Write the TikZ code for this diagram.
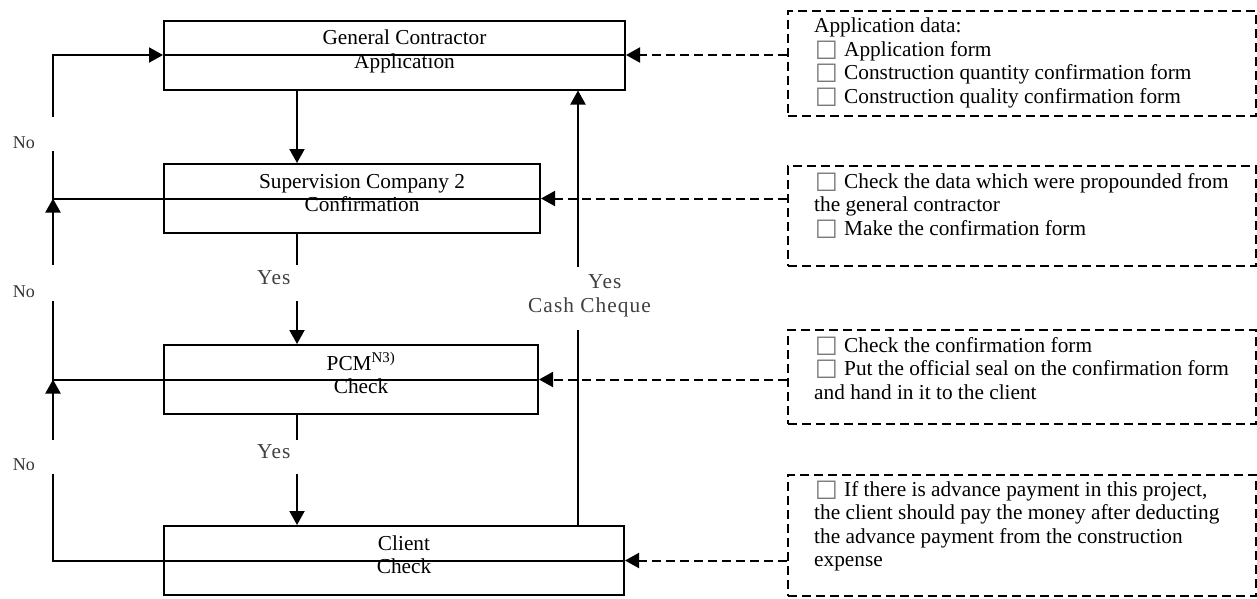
\documentclass[tikz,border=0pt]{standalone}
\usepackage{fontspec}
\setmainfont{Liberation Serif}
\newfontfamily\symfont{DejaVu Sans}
\newfontfamily\yesfont[LetterSpace=5]{Liberation Serif}
\usetikzlibrary{arrows.meta}
\newcommand{\cbx}{\makebox[30pt][l]{\hspace{1pt}{\color{black!55}\symfont\fontsize{24}{24}\selectfont □}}}
\tikzset{
 box/.style={draw, line width=2pt, minimum width=#1, minimum height=69pt, inner sep=0pt},
 btext/.style={align=center, inner sep=0pt, font=\fontsize{21.3}{23.5}\selectfont},
 note/.style={draw, line width=2pt, dash pattern=on 9pt off 5pt, inner sep=0pt},
 ntext/.style={align=left, inner sep=0pt, anchor=north west, font=\fontsize{21.3}{23.5}\selectfont},
 conn/.style={line width=2pt},
 dconn/.style={line width=2pt, dash pattern=on 9pt off 5pt},
 fwd/.style={-{Triangle[length=14pt,width=15pt]}},
 nolab/.style={anchor=base west, inner sep=0pt, text=black!80, font=\fontsize{18}{20}\selectfont},
 yeslab/.style={anchor=base west, inner sep=0pt, text=black!75, font=\yesfont\fontsize{21.3}{23.5}\selectfont},
}
\begin{document}
\begin{tikzpicture}[x=1pt,y=-1pt]
\useasboundingbox (0,0) rectangle (1257,598);
% process boxes
\node[box=461pt] (b1) at (394.5,55) {};
\node[box=376pt] (b2) at (352,198.5) {};
\node[box=374pt] (b3) at (351,379.5) {};
\node[box=460pt] (b4) at (394,560.5) {};
\node[btext] (t1) at ([shift={(10,-3)}]b1.center) {\strut General Contractor\\Application\strut};
\node[btext] (t2) at ([shift={(10,-3)}]b2.center) {\strut Supervision Company 2\\Confirmation\strut};
\node[btext] (t3) at ([shift={(10,-3)}]b3.center) {\strut PCM\textsuperscript{N3)}\\Check\strut};
\node[btext] (t4) at ([shift={(10,-3)}]b4.center) {\strut Client\\Check\strut};
% note boxes
\node[note, minimum width=468pt, minimum height=105pt] (n1) at (1022,63) {};
\node[note, minimum width=468pt, minimum height=100pt] (n2) at (1022,216) {};
\node[note, minimum width=468pt, minimum height=94pt] (n3) at (1022,377) {};
\node[note, minimum width=468pt, minimum height=121pt] (n4) at (1022,535.5) {};
\node[ntext] (nt1) at (814,15.85) {\strut Application data:\\\cbx Application form\\\cbx Construction quantity confirmation form\\\cbx Construction quality confirmation form};
\node[ntext] (nt2) at (814,171.5) {\strut\cbx Check the data which were propounded from\\the general contractor\\\cbx Make the confirmation form};
\node[ntext] (nt3) at (814,335.5) {\strut\cbx Check the confirmation form\\\cbx Put the official seal on the confirmation form\\and hand in it to the client};
\node[ntext] (nt4) at (814,479.5) {\strut\cbx If there is advance payment in this project,\\the client should pay the money after deducting\\the advance payment from the construction\\expense};
% labels
\node[nolab] (no1) at (12.7,148.3) {No};
\node[nolab] (no2) at (12.7,297.3) {No};
\node[nolab] (no3) at (12.7,470.7) {No};
\node[yeslab] (y1) at (257,284.3) {Yes};
\node[yeslab] (y2) at (257,458) {Yes};
\node[yeslab] (y3) at (588,288.3) {Yes};
\node[yeslab] (cc) at (528,312.7) {Cash Cheque};
% coordinates
\coordinate (dx) at (297,0);
\coordinate (rx) at (578,0);
\coordinate (lx) at (53,0);
\coordinate (L1) at (lx |- b1.west);
\coordinate (L2) at (lx |- b2.west);
\coordinate (L3) at (lx |- b3.west);
\coordinate (L4) at (lx |- b4.west);
\coordinate (g1a) at (53,117);
\coordinate (g1b) at (53,151);
\coordinate (g2a) at (53,265);
\coordinate (g2b) at (53,301);
\coordinate (g3a) at (53,440);
\coordinate (g3b) at (53,474);
\coordinate (h1a) at (297,265);
\coordinate (h1b) at (297,301);
\coordinate (h2a) at (297,440);
\coordinate (h2b) at (297,474);
\coordinate (r1a) at (578,267);
\coordinate (r1b) at (578,330);
% feedback (No) lines
\draw[conn] (b1.west) -- (b1.east);
\draw[conn] (b2.east) -- (b2.west) -- (L2) -- (g1b);
\draw[conn,fwd] (g1a) -- (L1) -- (b1.west);
\draw[conn] (b3.east) -- (b3.west) -- (L3) -- (g2b);
\draw[conn,fwd] (g2a) -- (L2);
\draw[conn] (b4.east) -- (b4.west) -- (L4) -- (g3b);
\draw[conn,fwd] (g3a) -- (L3);
% forward (Yes) lines
\draw[conn,fwd] (b1.south -| dx) -- (b2.north -| dx);
\draw[conn] (b2.south -| dx) -- (h1a);
\draw[conn,fwd] (h1b) -- (b3.north -| dx);
\draw[conn] (b3.south -| dx) -- (h2a);
\draw[conn,fwd] (h2b) -- (b4.north -| dx);
% return
\draw[conn] (b4.north -| rx) -- (r1b);
\draw[conn,fwd] (r1a) -- (b1.south -| rx);
% dashed inputs
\draw[dconn,fwd] (n1.west |- b1.east) -- (b1.east);
\draw[dconn,fwd] (n2.west |- b2.east) -- (b2.east);
\draw[dconn,fwd] (n3.west |- b3.east) -- (b3.east);
\draw[dconn,fwd] (n4.west |- b4.east) -- (b4.east);
\end{tikzpicture}
\end{document}
